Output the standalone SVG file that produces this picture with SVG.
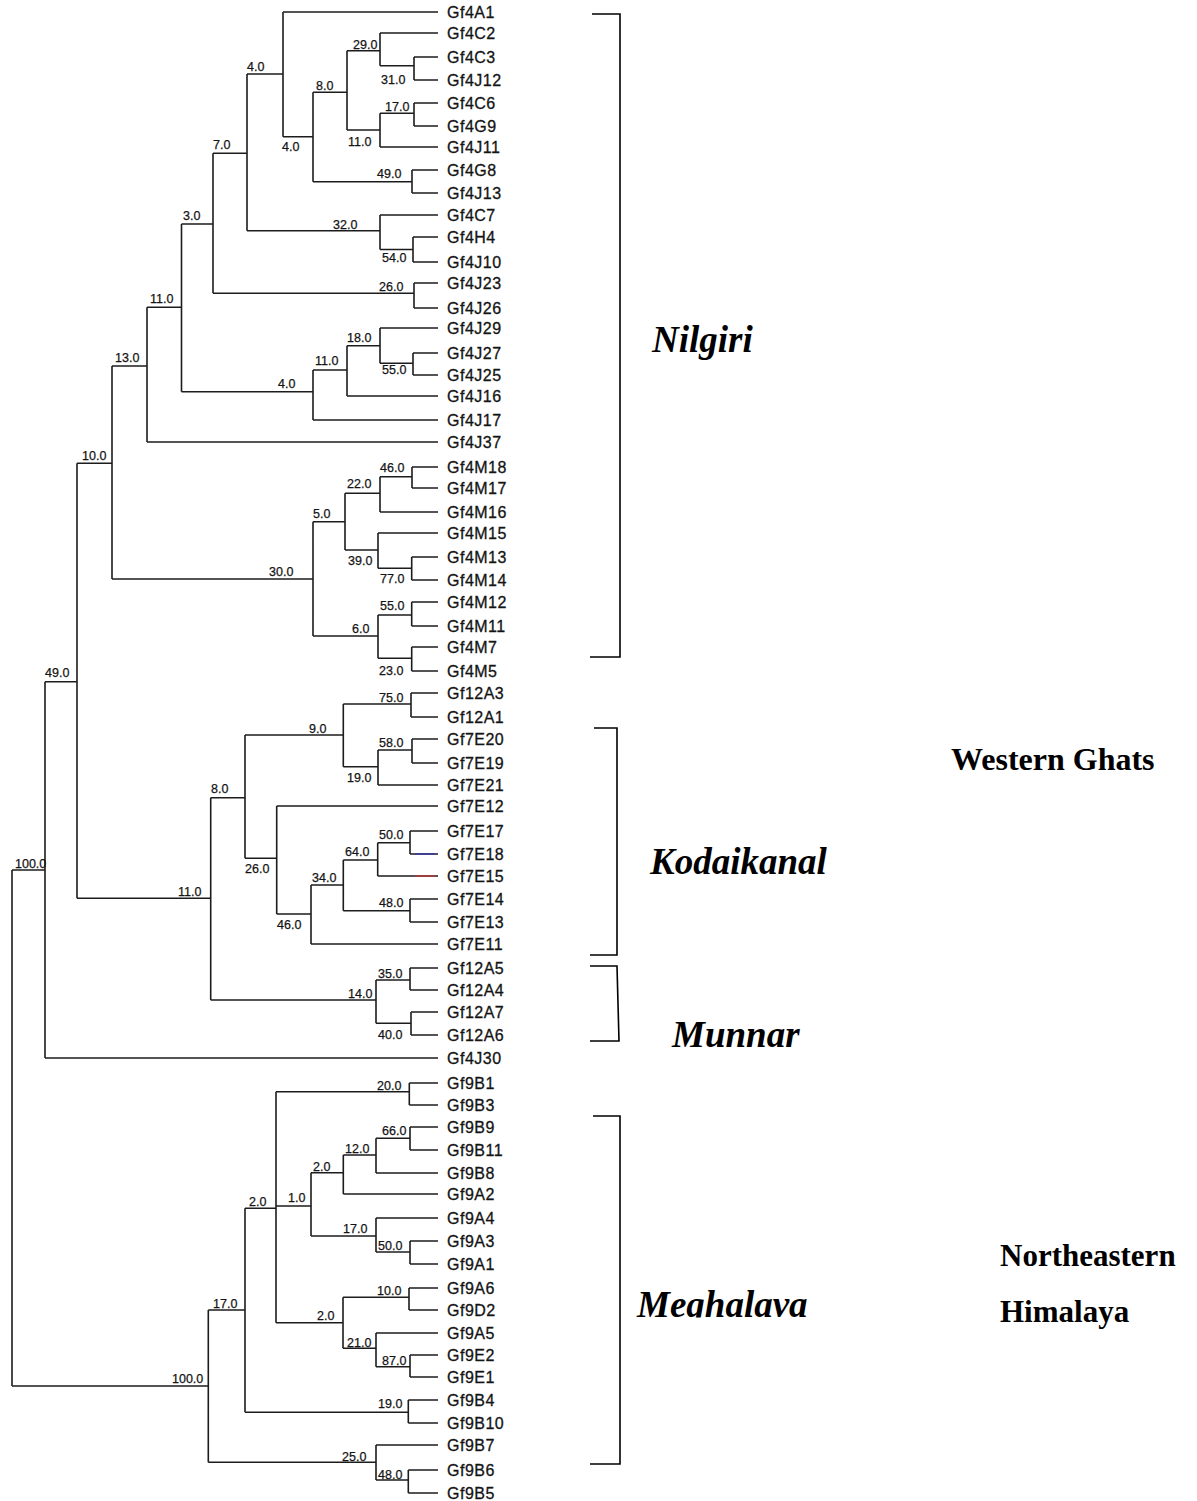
<svg xmlns="http://www.w3.org/2000/svg" width="1197" height="1501" viewBox="0 0 1197 1501">
<style>
.ln{stroke:#1c1c1c;stroke-width:1.6;fill:none}
.bk{stroke:#000;stroke-width:1.6;fill:none}
.leaf{font-family:"Liberation Sans",Arial,sans-serif;font-size:16px;letter-spacing:0.5px;fill:#141414;stroke:#141414;stroke-width:0.3px}
.bs{font-family:"Liberation Sans",Arial,sans-serif;font-size:12.5px;fill:#141414;stroke:#141414;stroke-width:0.25px}
.reg{font-family:"Liberation Serif","Times New Roman",serif;font-weight:bold;font-style:italic;font-size:37px;fill:#000}
.grp{font-family:"Liberation Serif","Times New Roman",serif;font-weight:bold;font-size:31px;fill:#000}
</style>
<defs>
<clipPath id="clipMeg"><rect x="600" y="1270" width="260" height="47.5"/></clipPath>
</defs>
<rect width="1197" height="1501" fill="#fff"/>
<g id="connectors">
<path class="ln" d="M12 870V1386M12 870H45M12 1386H208.3M45 681.7V1058M45 681.7H77M45 1058H438M77 463.3V898.3M77 463.3H112M77 898.3H210.7M112 366V579M112 366H147M112 579H313M147 307.3V442M147 307.3H181.5M147 442H438M181.5 224V391.7M181.5 224H213M181.5 391.7H313M213 153.3V293.3M213 153.3H247M213 293.3H414M247 74V230.7M247 74H283M247 230.7H380M283 12V136.7M283 12H438M283 136.7H313M313 92.3V181.7M313 92.3H347M313 181.7H412M347 50.7V130M347 50.7H380M347 130H380M380 33V65.7M380 33H438M380 65.7H414M414 57V80M414 57H438M414 80H438M380 113.3V147M380 113.3H414M380 147H438M414 103V126M414 103H438M414 126H438M412 170V193M412 170H438M412 193H438M380 215V249.5M380 215H438M380 249.5H413M413 237V262M413 237H438M413 262H438M414 283V308M414 283H438M414 308H438M313 370V420M313 370H347M313 420H438M347 345.7V396M347 345.7H380M347 396H438M380 328V363.3M380 328H438M380 363.3H413M413 353V375M413 353H438M413 375H438"/>
<path class="ln" d="M313 521.7V636M313 521.7H345M313 636H378M345 493.3V550M345 493.3H380M345 550H378M380 476.7V512M380 476.7H412M380 512H438M412 467V488M412 467H438M412 488H438M378 533V568.3M378 533H438M378 568.3H411.7M411.7 557V580M411.7 557H438M411.7 580H438M378 615V658.3M378 615H411.7M378 658.3H411.7M411.7 602V626M411.7 602H438M411.7 626H438M411.7 647V671M411.7 647H438M411.7 671H438"/>
<path class="ln" d="M210.7 797.7V1000M210.7 797.7H245M210.7 1000H376M245 735V858.3M245 735H343.3M245 858.3H276.7M343.3 704V766.7M343.3 704H411M343.3 766.7H378M411 693V717M411 693H438M411 717H438M378 750V785M378 750H412M378 785H438M412 739V763M412 739H438M412 763H438M276.7 806V914M276.7 806H438M276.7 914H311M311 885V944M311 885H343.3M311 944H438M343.3 860V910.7M343.3 860H377.7M343.3 910.7H410M377.7 842.7V876M377.7 842.7H410M377.7 876H438M410 831V854M410 831H438M410 854H438M410 899V922M410 899H438M410 922H438M376 980V1023.3M376 980H410M376 1023.3H411M410 968V990M410 968H438M410 990H438M411 1012V1035M411 1012H438M411 1035H438"/>
<path class="ln" d="M208.3 1310V1462.3M208.3 1310H245M208.3 1462.3H376M245 1208.3V1412.3M245 1208.3H276M245 1412.3H408.3M276 1091.7V1322.7M276 1091.7H409.3M276 1206H311M276 1322.7H343M409.3 1083V1105M409.3 1083H438M409.3 1105H438M311 1172.7V1236M311 1172.7H343.3M311 1236H376M343.3 1155V1194M343.3 1155H376M343.3 1194H438M376 1138.3V1173M376 1138.3H410M376 1173H438M410 1127V1150M410 1127H438M410 1150H438M376 1218V1252M376 1218H438M376 1252H410M410 1241V1264M410 1241H438M410 1264H438M343 1297.3V1348.3M343 1297.3H409M343 1348.3H376M409 1288V1310M409 1288H438M409 1310H438M376 1333V1366.7M376 1333H438M376 1366.7H410M410 1355V1377M410 1355H438M410 1377H438M408.3 1400V1423M408.3 1400H438M408.3 1423H438M376 1445V1480M376 1445H438M376 1480H408.3M408.3 1470V1493M408.3 1470H438M408.3 1493H438"/>
<path d="M415 854H435" stroke="#3a3aa8" stroke-width="1.6"/>
<path d="M415 876H435" stroke="#b03a3a" stroke-width="1.6"/>
</g>
<g id="brackets">
<path class="bk" d="M592 14H620V657H590"/>
<path class="bk" d="M594 728H617V955H590"/>
<path class="bk" d="M590 966H617L619 1041H590"/>
<path class="bk" d="M593 1116H620V1464H590"/>
</g>
<g id="leaves">
<g id="leaf-Gf4A1"><text class="leaf" x="447" y="17.5">Gf4A1</text></g>
<g id="leaf-Gf4C2"><text class="leaf" x="447" y="38.5">Gf4C2</text></g>
<g id="leaf-Gf4C3"><text class="leaf" x="447" y="62.5">Gf4C3</text></g>
<g id="leaf-Gf4J12"><text class="leaf" x="447" y="85.5">Gf4J12</text></g>
<g id="leaf-Gf4C6"><text class="leaf" x="447" y="108.5">Gf4C6</text></g>
<g id="leaf-Gf4G9"><text class="leaf" x="447" y="131.5">Gf4G9</text></g>
<g id="leaf-Gf4J11"><text class="leaf" x="447" y="152.5">Gf4J11</text></g>
<g id="leaf-Gf4G8"><text class="leaf" x="447" y="175.5">Gf4G8</text></g>
<g id="leaf-Gf4J13"><text class="leaf" x="447" y="198.5">Gf4J13</text></g>
<g id="leaf-Gf4C7"><text class="leaf" x="447" y="220.5">Gf4C7</text></g>
<g id="leaf-Gf4H4"><text class="leaf" x="447" y="242.5">Gf4H4</text></g>
<g id="leaf-Gf4J10"><text class="leaf" x="447" y="267.5">Gf4J10</text></g>
<g id="leaf-Gf4J23"><text class="leaf" x="447" y="288.5">Gf4J23</text></g>
<g id="leaf-Gf4J26"><text class="leaf" x="447" y="313.5">Gf4J26</text></g>
<g id="leaf-Gf4J29"><text class="leaf" x="447" y="333.5">Gf4J29</text></g>
<g id="leaf-Gf4J27"><text class="leaf" x="447" y="358.5">Gf4J27</text></g>
<g id="leaf-Gf4J25"><text class="leaf" x="447" y="380.5">Gf4J25</text></g>
<g id="leaf-Gf4J16"><text class="leaf" x="447" y="401.5">Gf4J16</text></g>
<g id="leaf-Gf4J17"><text class="leaf" x="447" y="425.5">Gf4J17</text></g>
<g id="leaf-Gf4J37"><text class="leaf" x="447" y="447.5">Gf4J37</text></g>
<g id="leaf-Gf4M18"><text class="leaf" x="447" y="472.5">Gf4M18</text></g>
<g id="leaf-Gf4M17"><text class="leaf" x="447" y="493.5">Gf4M17</text></g>
<g id="leaf-Gf4M16"><text class="leaf" x="447" y="517.5">Gf4M16</text></g>
<g id="leaf-Gf4M15"><text class="leaf" x="447" y="538.5">Gf4M15</text></g>
<g id="leaf-Gf4M13"><text class="leaf" x="447" y="562.5">Gf4M13</text></g>
<g id="leaf-Gf4M14"><text class="leaf" x="447" y="585.5">Gf4M14</text></g>
<g id="leaf-Gf4M12"><text class="leaf" x="447" y="607.5">Gf4M12</text></g>
<g id="leaf-Gf4M11"><text class="leaf" x="447" y="631.5">Gf4M11</text></g>
<g id="leaf-Gf4M7"><text class="leaf" x="447" y="652.5">Gf4M7</text></g>
<g id="leaf-Gf4M5"><text class="leaf" x="447" y="676.5">Gf4M5</text></g>
<g id="leaf-Gf12A3"><text class="leaf" x="447" y="698.5">Gf12A3</text></g>
<g id="leaf-Gf12A1"><text class="leaf" x="447" y="722.5">Gf12A1</text></g>
<g id="leaf-Gf7E20"><text class="leaf" x="447" y="744.5">Gf7E20</text></g>
<g id="leaf-Gf7E19"><text class="leaf" x="447" y="768.5">Gf7E19</text></g>
<g id="leaf-Gf7E21"><text class="leaf" x="447" y="790.5">Gf7E21</text></g>
<g id="leaf-Gf7E12"><text class="leaf" x="447" y="811.5">Gf7E12</text></g>
<g id="leaf-Gf7E17"><text class="leaf" x="447" y="836.5">Gf7E17</text></g>
<g id="leaf-Gf7E18"><text class="leaf" x="447" y="859.5">Gf7E18</text></g>
<g id="leaf-Gf7E15"><text class="leaf" x="447" y="881.5">Gf7E15</text></g>
<g id="leaf-Gf7E14"><text class="leaf" x="447" y="904.5">Gf7E14</text></g>
<g id="leaf-Gf7E13"><text class="leaf" x="447" y="927.5">Gf7E13</text></g>
<g id="leaf-Gf7E11"><text class="leaf" x="447" y="949.5">Gf7E11</text></g>
<g id="leaf-Gf12A5"><text class="leaf" x="447" y="973.5">Gf12A5</text></g>
<g id="leaf-Gf12A4"><text class="leaf" x="447" y="995.5">Gf12A4</text></g>
<g id="leaf-Gf12A7"><text class="leaf" x="447" y="1017.5">Gf12A7</text></g>
<g id="leaf-Gf12A6"><text class="leaf" x="447" y="1040.5">Gf12A6</text></g>
<g id="leaf-Gf4J30"><text class="leaf" x="447" y="1063.5">Gf4J30</text></g>
<g id="leaf-Gf9B1"><text class="leaf" x="447" y="1088.5">Gf9B1</text></g>
<g id="leaf-Gf9B3"><text class="leaf" x="447" y="1110.5">Gf9B3</text></g>
<g id="leaf-Gf9B9"><text class="leaf" x="447" y="1132.5">Gf9B9</text></g>
<g id="leaf-Gf9B11"><text class="leaf" x="447" y="1155.5">Gf9B11</text></g>
<g id="leaf-Gf9B8"><text class="leaf" x="447" y="1178.5">Gf9B8</text></g>
<g id="leaf-Gf9A2"><text class="leaf" x="447" y="1199.5">Gf9A2</text></g>
<g id="leaf-Gf9A4"><text class="leaf" x="447" y="1223.5">Gf9A4</text></g>
<g id="leaf-Gf9A3"><text class="leaf" x="447" y="1246.5">Gf9A3</text></g>
<g id="leaf-Gf9A1"><text class="leaf" x="447" y="1269.5">Gf9A1</text></g>
<g id="leaf-Gf9A6"><text class="leaf" x="447" y="1293.5">Gf9A6</text></g>
<g id="leaf-Gf9D2"><text class="leaf" x="447" y="1315.5">Gf9D2</text></g>
<g id="leaf-Gf9A5"><text class="leaf" x="447" y="1338.5">Gf9A5</text></g>
<g id="leaf-Gf9E2"><text class="leaf" x="447" y="1360.5">Gf9E2</text></g>
<g id="leaf-Gf9E1"><text class="leaf" x="447" y="1382.5">Gf9E1</text></g>
<g id="leaf-Gf9B4"><text class="leaf" x="447" y="1405.5">Gf9B4</text></g>
<g id="leaf-Gf9B10"><text class="leaf" x="447" y="1428.5">Gf9B10</text></g>
<g id="leaf-Gf9B7"><text class="leaf" x="447" y="1450.5">Gf9B7</text></g>
<g id="leaf-Gf9B6"><text class="leaf" x="447" y="1475.5">Gf9B6</text></g>
<g id="leaf-Gf9B5"><text class="leaf" x="447" y="1498.5">Gf9B5</text></g>
</g>
<g id="support-values">
<g id="bs-W"><text class="bs" x="15" y="868">100.0</text></g>
<g id="bs-M100"><text class="bs" x="172" y="1383">100.0</text></g>
<g id="bs-X"><text class="bs" x="45" y="677">49.0</text></g>
<g id="bs-Y"><text class="bs" x="82" y="460">10.0</text></g>
<g id="bs-K11"><text class="bs" x="178" y="896">11.0</text></g>
<g id="bs-N13"><text class="bs" x="115" y="362">13.0</text></g>
<g id="bs-M30"><text class="bs" x="269" y="576">30.0</text></g>
<g id="bs-N11a"><text class="bs" x="150" y="303">11.0</text></g>
<g id="bs-N3"><text class="bs" x="183" y="220">3.0</text></g>
<g id="bs-N4b"><text class="bs" x="278" y="388">4.0</text></g>
<g id="bs-N7"><text class="bs" x="213" y="149">7.0</text></g>
<g id="bs-N26"><text class="bs" x="379" y="291">26.0</text></g>
<g id="bs-N4a"><text class="bs" x="247" y="71">4.0</text></g>
<g id="bs-N32"><text class="bs" x="333" y="229">32.0</text></g>
<g id="bs-N4c"><text class="bs" x="282" y="151">4.0</text></g>
<g id="bs-N8"><text class="bs" x="316" y="90">8.0</text></g>
<g id="bs-N49"><text class="bs" x="377" y="178">49.0</text></g>
<g id="bs-N29"><text class="bs" x="353" y="49">29.0</text></g>
<g id="bs-N11b"><text class="bs" x="348" y="146">11.0</text></g>
<g id="bs-N31"><text class="bs" x="381" y="84">31.0</text></g>
<g id="bs-N17"><text class="bs" x="385" y="111">17.0</text></g>
<g id="bs-N54"><text class="bs" x="382" y="262">54.0</text></g>
<g id="bs-N11c"><text class="bs" x="315" y="365">11.0</text></g>
<g id="bs-N18"><text class="bs" x="347" y="342">18.0</text></g>
<g id="bs-N55a"><text class="bs" x="382" y="374">55.0</text></g>
<g id="bs-N5"><text class="bs" x="313" y="518">5.0</text></g>
<g id="bs-N6"><text class="bs" x="352" y="633">6.0</text></g>
<g id="bs-N22"><text class="bs" x="347" y="488">22.0</text></g>
<g id="bs-N39"><text class="bs" x="348" y="565">39.0</text></g>
<g id="bs-N46"><text class="bs" x="380" y="472">46.0</text></g>
<g id="bs-N77"><text class="bs" x="380" y="583">77.0</text></g>
<g id="bs-N55b"><text class="bs" x="380" y="610">55.0</text></g>
<g id="bs-N23"><text class="bs" x="379" y="675">23.0</text></g>
<g id="bs-K8"><text class="bs" x="211" y="793">8.0</text></g>
<g id="bs-K14"><text class="bs" x="348" y="998">14.0</text></g>
<g id="bs-K9"><text class="bs" x="309" y="733">9.0</text></g>
<g id="bs-K26"><text class="bs" x="245" y="873">26.0</text></g>
<g id="bs-K75"><text class="bs" x="379" y="702">75.0</text></g>
<g id="bs-K19"><text class="bs" x="347" y="782">19.0</text></g>
<g id="bs-K58"><text class="bs" x="379" y="747">58.0</text></g>
<g id="bs-K46"><text class="bs" x="277" y="929">46.0</text></g>
<g id="bs-K34"><text class="bs" x="312" y="882">34.0</text></g>
<g id="bs-K64"><text class="bs" x="345" y="856">64.0</text></g>
<g id="bs-K48"><text class="bs" x="379" y="907">48.0</text></g>
<g id="bs-K50"><text class="bs" x="379" y="839">50.0</text></g>
<g id="bs-K35"><text class="bs" x="378" y="978">35.0</text></g>
<g id="bs-K40"><text class="bs" x="378" y="1039">40.0</text></g>
<g id="bs-M17"><text class="bs" x="213" y="1308">17.0</text></g>
<g id="bs-M25"><text class="bs" x="342" y="1461">25.0</text></g>
<g id="bs-M2a"><text class="bs" x="249" y="1206">2.0</text></g>
<g id="bs-M19"><text class="bs" x="378" y="1408">19.0</text></g>
<g id="bs-M20"><text class="bs" x="377" y="1090">20.0</text></g>
<g id="bs-M1"><text class="bs" x="288" y="1202">1.0</text></g>
<g id="bs-M2c"><text class="bs" x="317" y="1320">2.0</text></g>
<g id="bs-M2b"><text class="bs" x="313" y="1171">2.0</text></g>
<g id="bs-M17b"><text class="bs" x="343" y="1233">17.0</text></g>
<g id="bs-M12"><text class="bs" x="345" y="1153">12.0</text></g>
<g id="bs-M66"><text class="bs" x="382" y="1135">66.0</text></g>
<g id="bs-M50"><text class="bs" x="378" y="1250">50.0</text></g>
<g id="bs-M10"><text class="bs" x="377" y="1295">10.0</text></g>
<g id="bs-M21"><text class="bs" x="347" y="1347">21.0</text></g>
<g id="bs-M87"><text class="bs" x="382" y="1365">87.0</text></g>
<g id="bs-M45"><text class="bs" x="378" y="1479">48.0</text></g>
</g>
<g id="region-labels">
<g id="lbl-nilgiri"><text class="reg" x="652" y="352">Nilgiri</text></g>
<g id="lbl-kodaikanal"><text class="reg" x="650" y="874">Kodaikanal</text></g>
<g id="lbl-munnar"><text class="reg" x="672" y="1047">Munnar</text></g>
<g id="lbl-meghalaya"><text class="reg" x="637" y="1317" clip-path="url(#clipMeg)">Meghalava</text></g>
<g id="lbl-western-ghats"><text class="grp" x="951" y="770" style="font-size:32px">Western Ghats</text></g>
<g id="lbl-ne-himalaya"><text class="grp" x="1000" y="1266">Northeastern</text><text class="grp" x="1000" y="1322">Himalaya</text></g>
</g>
</svg>
